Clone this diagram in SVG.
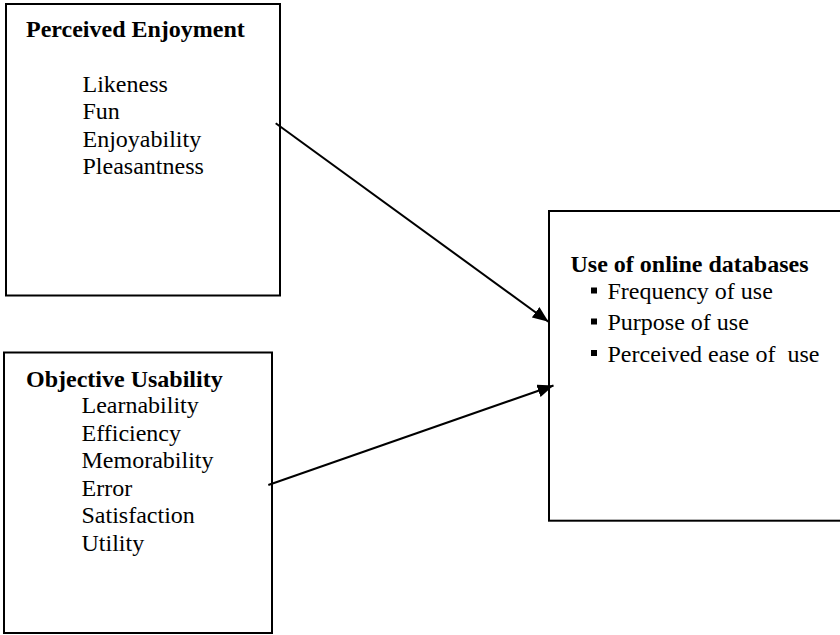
<svg xmlns="http://www.w3.org/2000/svg" width="840" height="635" viewBox="0 0 840 635">
<style>
.box{fill:#fff;stroke:#000;stroke-width:2}
.t{font-family:"Liberation Serif","Times New Roman",serif;font-size:24px;fill:#000}
.b{font-weight:bold}
.bullet{fill:#000}
.conn{stroke:#000;stroke-width:2;fill:none;marker-end:url(#ah)}
</style>
<defs>
<marker id="ah" markerUnits="userSpaceOnUse" markerWidth="17" markerHeight="13" refX="16" refY="6.5" orient="auto">
<path d="M0,0 L16,6.5 L0,13 z" fill="#000"/>
</marker>
</defs>
<rect width="840" height="635" fill="#fff"/>
<g id="perceived-enjoyment">
<rect class="box" x="6" y="4" width="274" height="291.5"/>
<text class="t b" x="26" y="37">Perceived Enjoyment</text>
<text class="t" x="82.5" y="91.7">Likeness</text>
<text class="t" x="82.5" y="119.3">Fun</text>
<text class="t" x="82.5" y="146.8">Enjoyability</text>
<text class="t" x="82.5" y="174.3">Pleasantness</text>
</g>
<g id="objective-usability">
<rect class="box" x="4" y="352.5" width="268" height="280.5"/>
<text class="t b" x="26" y="386.5">Objective Usability</text>
<text class="t" x="81.5" y="413.3">Learnability</text>
<text class="t" x="81.5" y="440.5">Efficiency</text>
<text class="t" x="81.5" y="468">Memorability</text>
<text class="t" x="81.5" y="495.7">Error</text>
<text class="t" x="81.5" y="523.3">Satisfaction</text>
<text class="t" x="81.5" y="550.7">Utility</text>
</g>
<g id="use-of-online-databases">
<rect class="box" x="549" y="211" width="295" height="309.7"/>
<text class="t b" x="570.5" y="271.5">Use of online databases</text>
<rect class="bullet" x="591" y="287.5" width="6" height="6"/>
<text class="t" x="607.5" y="299">Frequency of use</text>
<rect class="bullet" x="591" y="318.5" width="6" height="6"/>
<text class="t" x="607.5" y="330">Purpose of use</text>
<rect class="bullet" x="591" y="350" width="6" height="6"/>
<text class="t" x="607.5" y="361.7" xml:space="preserve">Perceived ease of  use</text>
</g>
<g id="connectors">
<line class="conn" x1="275.7" y1="123.3" x2="548.5" y2="321.7"/>
<line class="conn" x1="268.3" y1="485" x2="553.5" y2="385.5"/>
</g>
</svg>
